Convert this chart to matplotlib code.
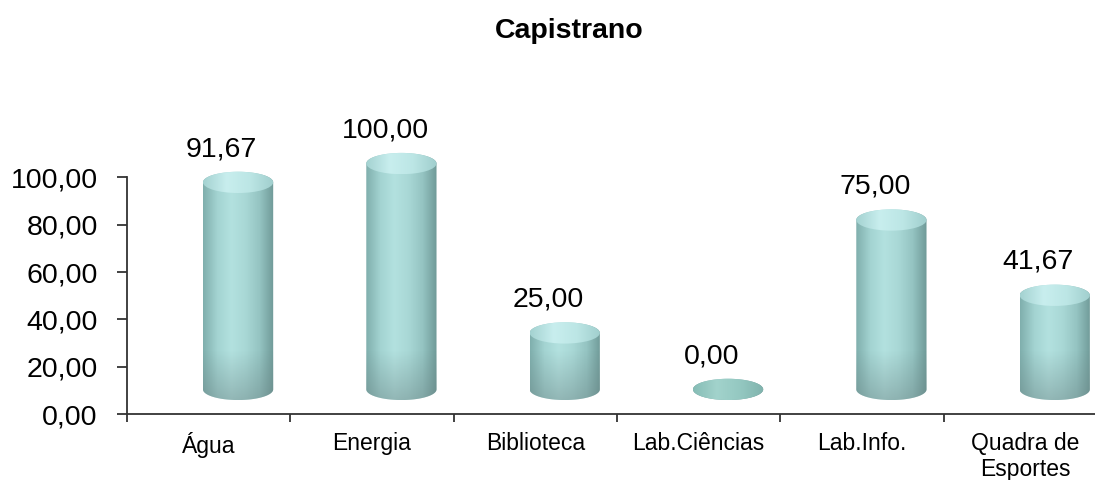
import numpy as np
import matplotlib
matplotlib.use('Agg')
import matplotlib.pyplot as plt
from matplotlib.path import Path
from matplotlib.patches import PathPatch, Ellipse
from matplotlib.colors import LinearSegmentedColormap

plt.rcParams['font.family'] = ['Liberation Sans', 'DejaVu Sans']

categories = ['Água', 'Energia', 'Biblioteca', 'Lab.Ciências', 'Lab.Info.', 'Quadra de\nEsportes']
values = [91.67, 100.00, 25.00, 0.00, 75.00, 41.67]
value_labels = ['91,67', '100,00', '25,00', '0,00', '75,00', '41,67']
yticks = [0, 20, 40, 60, 80, 100]
ytick_labels = ['0,00', '20,00', '40,00', '60,00', '80,00', '100,00']

# 3d look of the excel cylinders
dx, dy = 0.18, 10.4     # depth offset
hs = 0.955              # perspective shrink of the heights
w = 0.43                # cylinder width (category units)
ry = 4.5                # half height of the ellipses

body_cmap = LinearSegmentedColormap.from_list(
    'body', ['#80afad', '#a3d3d1', '#b3e1df', '#a9d8d6', '#95c4c2', '#6f9a98'])
cap_cmap = LinearSegmentedColormap.from_list(
    'cap', ['#a4d2d1', '#c8eeee', '#bce6e5', '#a0cecd'])
flat_cmap = LinearSegmentedColormap.from_list(
    'flat', ['#86bcb5', '#a2d3cc', '#94c8c1', '#80b3ad'])
shade_cmap = LinearSegmentedColormap.from_list(
    'shade', [(0.42, 0.52, 0.52, 0.45), (0.42, 0.52, 0.52, 0.0)])

fig = plt.figure(figsize=(10.95, 4.8), dpi=100)
ax = fig.add_axes([127 / 1095, 66 / 480, 980 / 1095, 130 * 2.365 / 480])

t = np.linspace(0, np.pi, 60)
grad = np.tile(np.linspace(0, 1, 200), (50, 1))
vgrad = np.tile(np.linspace(0, 1, 50)[:, None], (1, 10))
for i, v in enumerate(values):
    cx = i + dx
    x0, x1 = cx - w / 2, cx + w / 2
    yb, yt = dy, dy + v * hs
    # body outline: left side down, bottom arc, right side up, top arc back
    lower = np.column_stack([cx - w / 2 * np.cos(t), yb - ry * np.sin(t)])
    upper = np.column_stack([cx + w / 2 * np.cos(t), yt + ry * np.sin(t)])
    verts = np.vstack([[[x0, yt]], lower, upper, [[x0, yt]]])
    body = PathPatch(Path(verts, closed=True), facecolor='none', edgecolor='none')
    ax.add_patch(body)
    im = ax.imshow(grad, cmap=body_cmap, extent=(x0, x1, yb - ry, yt + ry),
                   aspect='auto', origin='lower', zorder=2)
    im.set_clip_path(body)
    # grey shading towards the foot of the cylinder
    im2 = ax.imshow(vgrad, cmap=shade_cmap, extent=(x0, x1, yb - ry, yb + ry + 12),
                    aspect='auto', origin='lower', zorder=2.1)
    im2.set_clip_path(body)
    # top cap
    cap = Ellipse((cx, yt), w, 2 * ry, facecolor='none', edgecolor='none')
    ax.add_patch(cap)
    im3 = ax.imshow(grad, cmap=cap_cmap if v > 0 else flat_cmap,
                    extent=(x0, x1, yt - ry, yt + ry),
                    aspect='auto', origin='lower', zorder=3)
    im3.set_clip_path(cap)
    ax.text(i + 0.08, v * hs + 24.5, value_labels[i], ha='center', va='center', fontsize=20.5)

ax.set_xlim(-0.5, 5.5)
ax.set_ylim(0, 130)
ax.set_yticks(yticks)
ax.set_yticklabels(ytick_labels, fontsize=20.5)
ax.set_xticks(range(len(categories)))
ax.set_xticklabels(categories, fontsize=16.5, linespacing=1.15)
ax.set_xticks(np.arange(-0.5, 6, 1), minor=True)
ax.tick_params(axis='x', which='major', length=0, pad=13)
ax.tick_params(axis='x', which='minor', length=6, width=1.3, direction='out', color='#333333')
ax.tick_params(axis='y', length=7, width=1.3, color='#333333', pad=14)

for s in ['top', 'right']:
    ax.spines[s].set_visible(False)
for s in ['left', 'bottom']:
    ax.spines[s].set_color('#333333')
    ax.spines[s].set_linewidth(1.3)
ax.spines['left'].set_bounds(0, 100)

fig.text(569 / 1095, 1 - 31 / 480, 'Capistrano', ha='center', va='center',
         fontsize=20.5, fontweight='bold')

fig.savefig('out.png', dpi=100)
